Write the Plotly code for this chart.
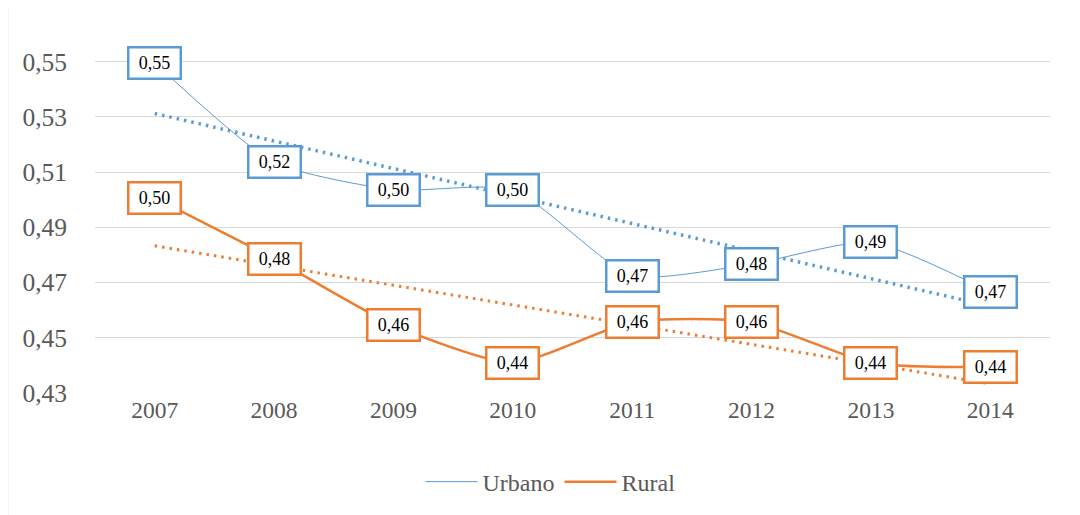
import numpy as np
import plotly.graph_objects as go

years = ["2007", "2008", "2009", "2010", "2011", "2012", "2013", "2014"]
urbano = [0.5496, 0.5135, 0.5036, 0.5036, 0.4725, 0.4767, 0.4846, 0.4666]
rural = [0.5007, 0.4786, 0.4546, 0.4409, 0.4557, 0.4557, 0.4409, 0.4394]
urbano_labels = ["0,55", "0,52", "0,50", "0,50", "0,47", "0,48", "0,49", "0,47"]
rural_labels = ["0,50", "0,48", "0,46", "0,44", "0,46", "0,46", "0,44", "0,44"]
y_ticks = [0.43, 0.45, 0.47, 0.49, 0.51, 0.53, 0.55]
y_tick_text = ["0,43", "0,45", "0,47", "0,49", "0,51", "0,53", "0,55"]

BLUE = "#5B9BD5"
ORANGE = "#ED7D31"
FONT = "Liberation Serif, Times New Roman, serif"

idx = np.arange(len(years))
fu = np.polyval(np.polyfit(idx, urbano, 1), idx).tolist()
fr = np.polyval(np.polyfit(idx, rural, 1), idx).tolist()

fig = go.Figure()
fig.add_trace(go.Scatter(x=years, y=fu, mode="lines", showlegend=False,
                         line=dict(color=BLUE, width=3.5, dash="2.5px,5px"), hoverinfo="skip"))
fig.add_trace(go.Scatter(x=years, y=fr, mode="lines", showlegend=False,
                         line=dict(color=ORANGE, width=3, dash="2.5px,5px"), hoverinfo="skip"))
fig.add_trace(go.Scatter(x=years, y=urbano, mode="lines", name="Urbano",
                         line=dict(color=BLUE, width=1, shape="spline", smoothing=0.6)))
fig.add_trace(go.Scatter(x=years, y=rural, mode="lines", name="Rural",
                         line=dict(color=ORANGE, width=2.5, shape="spline", smoothing=0.6)))

annotations = []
for labels, vals, col in ((urbano_labels, urbano, BLUE), (rural_labels, rural, ORANGE)):
    for i, (v, t) in enumerate(zip(vals, labels)):
        annotations.append(dict(x=i, y=v, xref="x", yref="y", text=t, showarrow=False,
                                bgcolor="white", bordercolor=col, borderwidth=2.5,
                                borderpad=4, width=42, height=21,
                                font=dict(family=FONT, size=18, color="black")))

# outer chart border (left and top)
shapes = [
    dict(type="line", xref="paper", yref="paper", x0=-0.0916, x1=-0.0916, y0=1.081, y1=-0.4,
         line=dict(color="#D9D9D9", width=1.5)),
    dict(type="line", xref="paper", yref="paper", x0=-0.0916, x1=1.1, y0=1.081, y1=1.081,
         line=dict(color="#D9D9D9", width=1.5)),
]

fig.update_layout(
    width=1080, height=515,
    margin=dict(l=87, r=38, t=26, b=130),
    paper_bgcolor="white", plot_bgcolor="white",
    font=dict(family=FONT, color="#595959"),
    annotations=annotations, shapes=shapes,
    legend=dict(orientation="h", x=0.477, xanchor="center", y=-0.248, yanchor="middle",
                font=dict(family=FONT, size=24, color="#595959"), itemwidth=52),
    xaxis=dict(type="category", range=[-0.5, 7.5], showgrid=False, showline=False,
               ticks="", tickfont=dict(family=FONT, size=23.5, color="#595959"), zeroline=False),
    yaxis=dict(range=[0.43, 0.56], tickvals=y_ticks, ticktext=y_tick_text,
               showgrid=True, gridcolor="#D9D9D9", gridwidth=1, zeroline=False,
               showline=False, ticks="", ticklabelstandoff=27,
               tickfont=dict(family=FONT, size=25.5, color="#595959")),
)

fig.write_html("out.html")
